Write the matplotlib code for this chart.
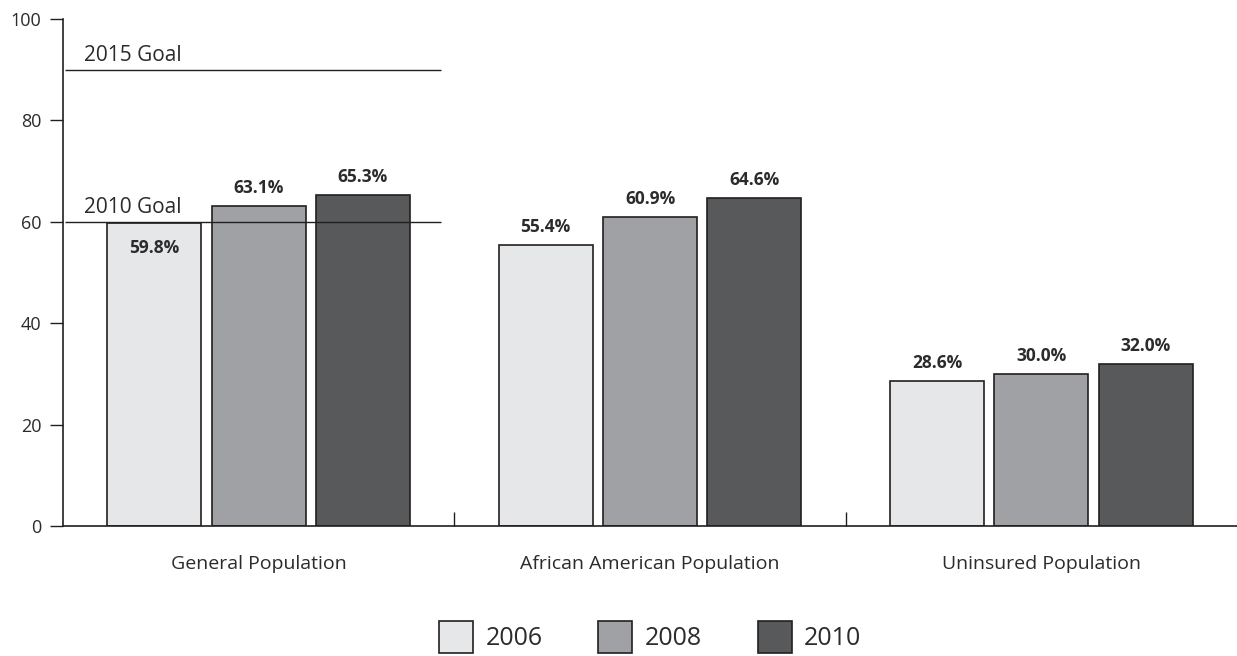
import numpy as np
import matplotlib
matplotlib.use("Agg")
from matplotlib import pyplot as plt

plt.rcParams["font.family"] = ["Open Sans", "DejaVu Sans"]

categories = ["General Population", "African American Population", "Uninsured Population"]
years = ["2006", "2008", "2010"]
pct_2006 = [59.8, 55.4, 28.6]
pct_2008 = [63.1, 60.9, 30.0]
pct_2010 = [65.3, 64.6, 32.0]
goal_values = [90, 60]
goal_labels = ["2015 Goal", "2010 Goal"]

colors = ["#e6e7e8", "#a0a1a4", "#58595b"]
edge = "#231f20"
txt = "#2b2b2b"

fig = plt.figure(figsize=(12.37, 6.56), dpi=100)
ax = fig.add_axes([63 / 1237, 130 / 656, 1 - 63 / 1237, 507 / 656])

x = np.arange(len(categories))
width = 0.241
step = 0.2666
series = [pct_2006, pct_2008, pct_2010]

for i, (vals, col, yr) in enumerate(zip(series, colors, years)):
    pos = x + (i - 1) * step
    ax.bar(pos, vals, width, color=col, edgecolor=edge, linewidth=1.2, label=yr, zorder=2)
    for px, v in zip(pos, vals):
        # labels that would sit on a goal line go inside the bar
        near_goal = any(0 <= g - v < 3 for g in goal_values)
        dy = -30 if near_goal else 13
        ax.annotate(f"{v:.1f}%", (px, v), xytext=(0, dy), textcoords="offset pixels",
                    ha="center", va="baseline", fontsize=12.5, fontweight="bold", color=txt)

# goal lines over the first group
for g, lab in zip(goal_values, goal_labels):
    ax.hlines(g, -0.495, 0.467, color="#231f20", linewidth=1.0, zorder=3)
    ax.annotate(lab, (-0.446, g), xytext=(0, 9), textcoords="offset pixels",
                ha="left", va="baseline", fontsize=15, color=txt)

ax.set_xlim(-0.5, 2.5)
ax.set_ylim(0, 100)
ax.set_yticks([0, 20, 40, 60, 80, 100])
ax.tick_params(axis="y", direction="out", length=9.5, width=1.0, color=edge,
               labelsize=13, labelcolor=txt, pad=6)

# group separators as inward ticks, category names as minor tick labels
ax.set_xticks([0.5, 1.5])
ax.set_xticklabels([])
ax.tick_params(axis="x", which="major", direction="in", length=10, width=1.0, color=edge)
ax.set_xticks(x, labels=categories, minor=True)
ax.tick_params(axis="x", which="minor", length=0, pad=21, labelsize=14, labelcolor=txt)

for s in ["top", "right"]:
    ax.spines[s].set_visible(False)
for s in ["left", "bottom"]:
    ax.spines[s].set_color(edge)
    ax.spines[s].set_linewidth(1.2)

fig.legend(loc="upper center", bbox_to_anchor=(650 / 1237, 1 - 608 / 656), ncol=3, frameon=False,
           fontsize=18, handlelength=1.36, handleheight=1.65, handletextpad=0.48,
           columnspacing=2.24, borderpad=0, labelcolor=txt)

fig.savefig("out.png", dpi=100)
